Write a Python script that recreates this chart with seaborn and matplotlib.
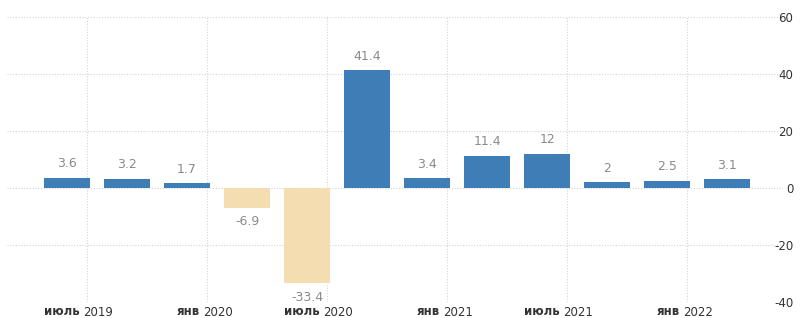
import matplotlib
matplotlib.use("Agg")
from matplotlib import pyplot as plt
import pandas as pd
import seaborn as sns

# quarterly GDP growth, annualised, %
quarters = ["2019Q2", "2019Q3", "2019Q4", "2020Q1", "2020Q2", "2020Q3",
            "2020Q4", "2021Q1", "2021Q2", "2021Q3", "2021Q4", "2022Q1"]
values = [3.6, 3.2, 1.7, -6.9, -33.4, 41.4, 3.4, 11.4, 12, 2, 2.5, 3.1]

tick_months = ["июль", "янв", "июль", "янв", "июль", "янв"]
tick_years = ["2019", "2020", "2020", "2021", "2021", "2022"]
tick_bars = [0, 2, 4, 6, 8, 10]   # gridline sits at right end of these bars

y_ticks = [-40, -20, 0, 20, 40, 60]

BLUE = "#3E7DB5"
SAND = "#F3DDB1"

df = pd.DataFrame({"quarter": quarters, "value": values})
df["sign"] = ["pos" if v >= 0 else "neg" for v in df["value"]]

sns.set_style("white")
plt.rcParams["font.family"] = ["DejaVu Sans"]
plt.rcParams["axes.unicode_minus"] = False

fig = plt.figure(figsize=(8.09, 3.18), dpi=100)
W, H = 809, 318
ax = fig.add_axes([7 / W, (H - 302) / H, (783 - 7) / W, (302 - 17) / H])

sns.barplot(data=df, x="quarter", y="value", hue="sign",
            palette={"pos": BLUE, "neg": SAND}, dodge=False, saturation=1,
            width=0.77, legend=False, ax=ax, zorder=3, linewidth=0)

ax.set_xlim(-1.0, 11.93)
ax.set_ylim(-40, 60)

# value labels
for i, v in enumerate(values):
    off = 10 if v >= 0 else -10
    ax.annotate(f"{v:g}", xy=(i, v), xytext=(0, off), textcoords="offset points",
                ha="center", va="center", fontsize=9, color="#8a8a8a")

# grid
grid_x = [b + 0.33 for b in tick_bars]
ax.set_xticks(grid_x)
ax.set_xticklabels([])
ax.set_yticks(y_ticks)
ax.grid(True, linestyle=(0, (1, 1.5)), color="#d4d4d4", linewidth=0.8, zorder=0)
ax.set_axisbelow(True)

ax.yaxis.tick_right()
ax.tick_params(axis="both", length=0)
ax.tick_params(axis="y", pad=7.5, labelsize=8.5, labelcolor="#333333")
for lab in ax.get_yticklabels():
    lab.set_horizontalalignment("right")

# month / year tick labels
for x, m, yr in zip(grid_x, tick_months, tick_years):
    ax.annotate(m, xy=(x, 0), xycoords=("data", "axes fraction"),
                xytext=(-5, -6.5), textcoords="offset points",
                ha="right", va="center", fontsize=8.5, fontweight="semibold",
                color="#333333")
    ax.annotate(yr, xy=(x, 0), xycoords=("data", "axes fraction"),
                xytext=(-3, -7.5), textcoords="offset points",
                ha="left", va="center", fontsize=8.5, color="#333333")

ax.set_xlabel("")
ax.set_ylabel("")
for s in ax.spines.values():
    s.set_visible(False)

fig.savefig("out.png", dpi=100)
